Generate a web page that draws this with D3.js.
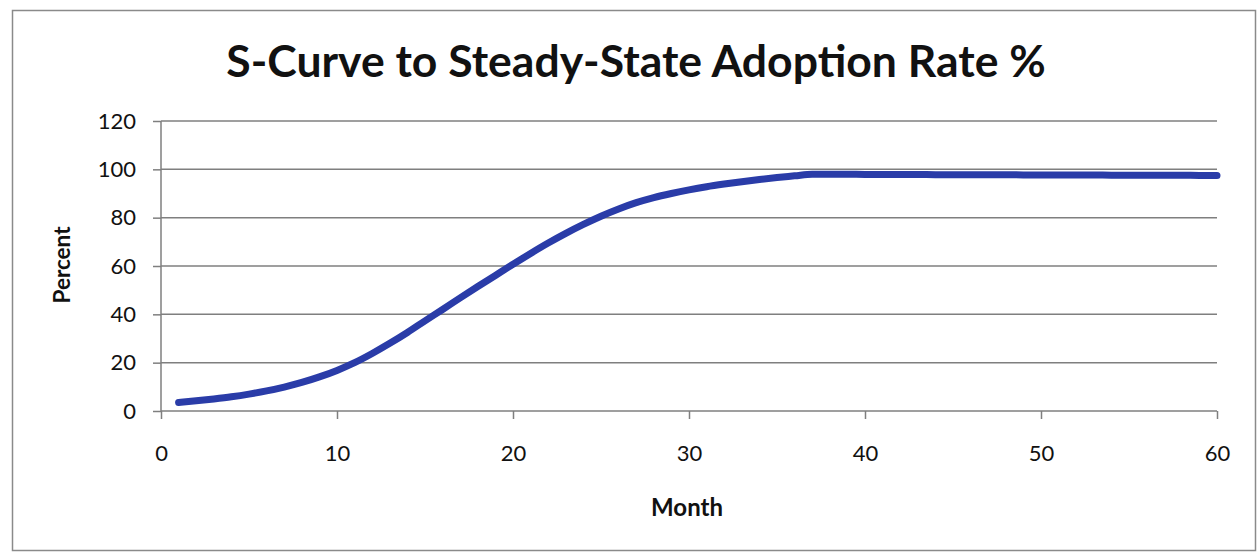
<!DOCTYPE html>
<html>
<head>
<meta charset="utf-8">
<script src="https://cdn.jsdelivr.net/npm/d3@7"></script>
<style>
  body { margin: 0; background: #fff; }
  svg { display: block; font-family: Lato, "Open Sans", sans-serif; }
</style>
</head>
<body>
<svg id="chart" width="1258" height="552"></svg>
<script>
/* data */
const months = d3.range(1, 61);
const adoption = [
  3.5, 4.2, 5.0, 5.9, 7.0, 8.3, 9.9, 11.8, 14.1, 16.8,
  20.0, 23.8, 28.0, 32.5, 37.3, 42.0, 46.8, 51.5, 56.1, 60.7,
  65.2, 69.5, 73.5, 77.2, 80.6, 83.6, 86.2, 88.3, 90.0, 91.5,
  92.8, 93.9, 94.9, 95.8, 96.6, 97.3, 98.0, 98.0, 98.0, 97.9,
  97.9, 97.9, 97.9, 97.8, 97.8, 97.8, 97.8, 97.8, 97.7, 97.7,
  97.7, 97.7, 97.7, 97.6, 97.6, 97.6, 97.6, 97.6, 97.5, 97.5
];
const xTicks = [0, 10, 20, 30, 40, 50, 60];
const yTicks = [0, 20, 40, 60, 80, 100, 120];
const title = "S-Curve to Steady-State Adoption Rate %";
const xTitle = "Month";
const yTitle = "Percent";

/* layout */
const margin = { top: 121, right: 41, bottom: 141, left: 161 };
const width = 1258;
const height = 552;
const gridColor = "#7f7f7f";

const svg = d3.select("#chart");

const x = d3.scaleLinear()
    .domain([0, 60])
    .range([margin.left, width - margin.right]);
const y = d3.scaleLinear()
    .domain([0, 120])
    .range([height - margin.bottom, margin.top]);

// outer frame
svg.append("rect")
    .attr("x", 12.5)
    .attr("y", 10.5)
    .attr("width", 1243)
    .attr("height", 540)
    .attr("fill", "none")
    .attr("stroke", "#8a8a8a")
    .attr("stroke-width", 1.5);

// gridlines
svg.append("g")
    .selectAll("line")
    .data(yTicks.filter(d => d > 0))
    .join("line")
    .attr("x1", x(0))
    .attr("x2", x(60))
    .attr("y1", d => y(d))
    .attr("y2", d => y(d))
    .attr("stroke", gridColor)
    .attr("stroke-width", 1.5);

/* axes */
const yAxis = d3.axisLeft(y)
    .tickValues(yTicks)
    .tickSize(8)
    .tickPadding(17);
const xAxis = d3.axisBottom(x)
    .tickValues(xTicks)
    .tickSize(8)
    .tickPadding(26);

const gy = svg.append("g")
    .attr("transform", "translate(" + x(0) + ",0)")
    .call(yAxis);
const gx = svg.append("g")
    .attr("transform", "translate(0," + y(0) + ")")
    .call(xAxis);

[gx, gy].forEach(g => {
    g.select(".domain")
        .attr("stroke", gridColor)
        .attr("stroke-width", 1.5);
    g.selectAll(".tick line")
        .attr("stroke", gridColor)
        .attr("stroke-width", 1.5);
    g.selectAll(".tick text")
        .attr("fill", "#111")
        .style("font-family", "Lato, sans-serif")
        .style("font-size", "22px");
});
// no outer tick stubs on the domain path
gy.select(".domain").attr("d", "M0," + y(120) + "V" + y(0));
gx.select(".domain").attr("d", "M" + x(0) + ",0H" + x(60));

/* the curve */
const line = d3.line()
    .x((d, i) => x(months[i]))
    .y(d => y(d))
    .curve(d3.curveMonotoneX);

svg.append("path")
    .datum(adoption)
    .attr("d", line)
    .attr("fill", "none")
    .attr("stroke", "#2a3ca8")
    .attr("stroke-width", 7)
    .attr("stroke-linecap", "round")
    .attr("stroke-linejoin", "round");

/* titles */
svg.append("text")
    .attr("x", 636)
    .attr("y", 77)
    .attr("text-anchor", "middle")
    .style("font-size", "44.5px")
    .style("font-weight", "bold")
    .attr("fill", "#111")
    .text(title);

svg.append("text")
    .attr("x", 687)
    .attr("y", 516)
    .attr("text-anchor", "middle")
    .style("font-size", "24px")
    .style("font-weight", "bold")
    .attr("fill", "#111")
    .text(xTitle);

svg.append("text")
    .attr("transform", "translate(70,265) rotate(-90)")
    .attr("text-anchor", "middle")
    .style("font-size", "22.5px")
    .style("font-weight", "bold")
    .attr("fill", "#111")
    .text(yTitle);
</script>
</body>
</html>
